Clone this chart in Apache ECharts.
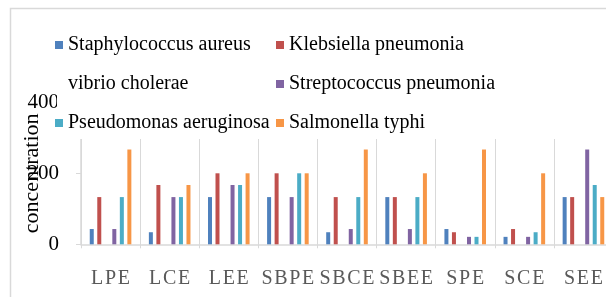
<!DOCTYPE html>
<html>
<head>
<meta charset="utf-8">
<script src="https://cdn.jsdelivr.net/npm/echarts@6/dist/echarts.min.js"></script>
<style>
  html, body { margin: 0; padding: 0; background: #fff; }
  #main { width: 606px; height: 297px; }
</style>
</head>
<body>
<div id="main"></div>
<script>
// categories (extracts)
const categories = ['LPE', 'LCE', 'LEE', 'SBPE', 'SBCE', 'SBEE', 'SPE', 'SCE', 'SEE'];
// concentration per organism
const staphylococcus = [43, 34, 133, 133, 34, 133, 43, 21, 133];
const klebsiella = [133, 167, 200, 200, 133, 133, 34, 43, 133];
const vibrio = [0, 0, 0, 0, 0, 0, 0, 0, 0]; // no bars in the picture
const streptococcus = [43, 133, 167, 133, 43, 43, 21, 21, 267];
const pseudomonas = [133, 133, 167, 200, 133, 133, 21, 34, 167];
const salmonella = [267, 167, 200, 200, 267, 200, 267, 200, 133];
const yTicks = [0, 200, 400];

const serif = 'Liberation Serif';
const hair = '\u200A';

const chart = echarts.init(document.getElementById('main'));

function bar(name, data, color) {
  return {
    name: name,
    type: 'bar',
    data: data,
    barWidth: 4,
    barGap: '88%',
    itemStyle: { color: color },
  };
}

const legendText = { fontFamily: serif, fontSize: 20, color: '#000', lineHeight: 20 };

const option = {
  animation: false,
  textStyle: { fontFamily: serif },
  grid: { left: 81, right: -7, top: 102.3, bottom: 52.7, outerBoundsMode: 'none' },
  legend: [
    {
      orient: 'vertical',
      left: 55,
      top: 35,
      padding: 0,
      itemWidth: 8,
      itemHeight: 8,
      itemGap: 19,
      icon: 'rect',
      selectedMode: false,
      textStyle: legendText,
      data: ['Staphylococcus aureus', 'vibrio cholerae', 'Pseudomonas aeruginosa'],
    },
    {
      orient: 'vertical',
      left: 276,
      top: 35,
      padding: 0,
      itemWidth: 8,
      itemHeight: 8,
      itemGap: 19,
      icon: 'rect',
      selectedMode: false,
      textStyle: legendText,
      data: ['Klebsiella pneumonia', 'Streptococcus pneumonia', 'Salmonella typhi'],
    },
  ],
  graphic: [
    {
      // white legend box laid over the top of the plot
      type: 'rect',
      z: 3,
      shape: { x: 57, y: 14, width: 560, height: 125 },
      style: { fill: '#fff' },
    },
    {
      // chart frame, cut off at the right and bottom
      type: 'rect',
      z: 5,
      shape: { x: 10.5, y: 8.5, width: 640, height: 300 },
      style: { fill: 'none', stroke: '#d9d9d9', lineWidth: 1.5 },
    },
  ],
  xAxis: {
    type: 'category',
    data: categories,
    axisLine: { lineStyle: { color: '#d9d9d9', width: 1.5 } },
    axisTick: { show: true, length: 4, lineStyle: { color: '#d9d9d9' } },
    splitLine: { show: true, lineStyle: { color: '#d9d9d9', width: 1 } },
    axisLabel: {
      interval: 0,
      margin: 24,
      fontFamily: serif,
      fontSize: 20,
      color: '#595959',
      formatter: function (v) {
        return v.split('').join(hair);
      },
    },
  },
  yAxis: {
    type: 'value',
    min: yTicks[0],
    max: yTicks[yTicks.length - 1],
    interval: 200,
    name: 'concentration',
    nameLocation: 'middle',
    nameGap: 38,
    nameMoveOverlap: false,
    nameTextStyle: { fontFamily: serif, fontSize: 22, color: '#000' },
    axisLine: { show: true, lineStyle: { color: '#d9d9d9', width: 1.5 } },
    axisTick: { show: true, length: 5, lineStyle: { color: '#d9d9d9' } },
    splitLine: { show: false },
    axisLabel: { margin: 22, fontFamily: serif, fontSize: 21, color: '#000' },
  },
  series: [
    bar('Staphylococcus aureus', staphylococcus, '#4F81BD'),
    bar('Klebsiella pneumonia', klebsiella, '#C0504D'),
    bar('vibrio cholerae', vibrio, 'rgba(0,0,0,0)'),
    bar('Streptococcus pneumonia', streptococcus, '#8064A2'),
    bar('Pseudomonas aeruginosa', pseudomonas, '#4BACC6'),
    bar('Salmonella typhi', salmonella, '#F79646'),
  ],
};

chart.setOption(option);
</script>
</body>
</html>
